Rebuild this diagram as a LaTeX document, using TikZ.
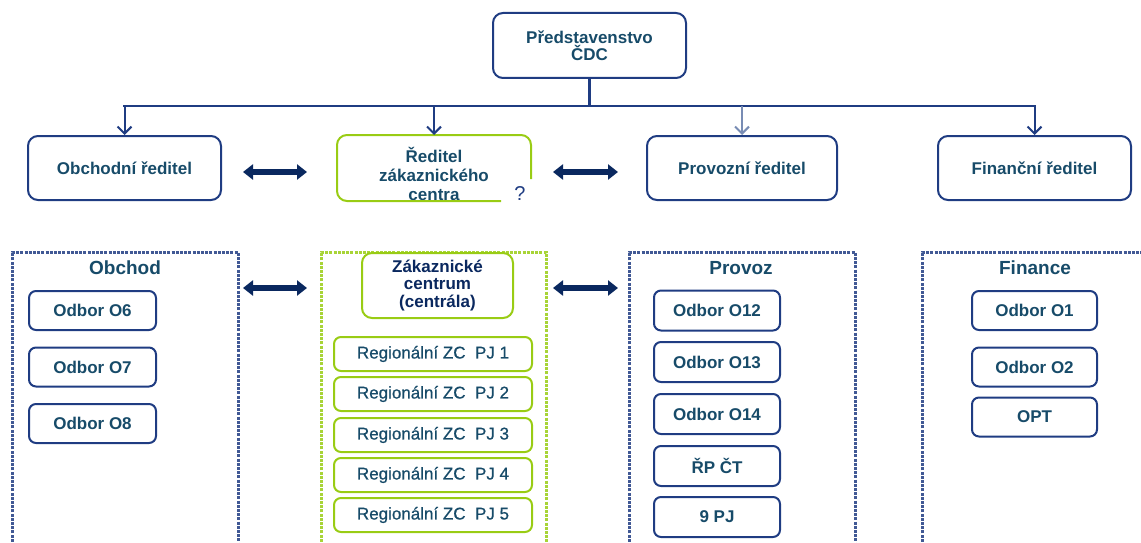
\documentclass[tikz,border=0pt]{standalone}
\usepackage{fontspec}
\setmainfont{Liberation Sans}
\usetikzlibrary{arrows.meta}
\definecolor{navy}{RGB}{31,60,130}
\definecolor{arrowfill}{RGB}{10,40,95}
\definecolor{txt}{RGB}{23,75,105}
\definecolor{lgreen}{RGB}{153,204,20}
\definecolor{lnavy}{RGB}{120,140,180}
\tikzset{
  box/.style={draw=navy, line width=2pt, rounded corners=10pt, fill=white, text=txt,
    font=\fontsize{17}{17.5}\selectfont\bfseries, align=center, inner sep=0pt},
  smallbox/.style={box, rounded corners=7pt},
  gbox/.style={smallbox, draw=lgreen, font=\fontsize{17}{17}\selectfont\addfontfeature{FakeBold=0.6}},
  ttl/.style={text=txt, font=\fontsize{19}{19}\selectfont\bfseries, inner sep=0pt},
  cont/.style={draw=navy!85, line width=3pt, dash pattern=on 3pt off 1.2pt},
  gcont/.style={cont, draw=lgreen!85},
  down/.style={draw=navy, line width=2pt, -{Straight Barb[length=7pt,width=14pt,line width=2pt]}},
  dbl/.style={draw=arrowfill, line width=6.5pt, {Triangle[width=15pt,length=10pt]}-{Triangle[width=15pt,length=10pt]}},
}
\begin{document}
\begin{tikzpicture}[x=1pt,y=-1pt]
\useasboundingbox (0,0) rectangle (1141,543);
% top
\node[box, minimum width=193pt, minimum height=65pt] (top) at (589.5,45.5) {Představenstvo\\ČDC};
% second row
\node[box, minimum width=193pt, minimum height=64pt] (obch) at (124.5,168) {Obchodní ředitel};
\node[box, draw=none, fill=none, minimum width=192pt, minimum height=64pt] (rzc) at (434,168) {};
\node[box, draw=none, fill=none, font=\fontsize{17}{19}\selectfont\bfseries] (rzct) at (434,174) {Ředitel\\zákaznického\\centra};
\draw[lgreen, line width=2pt, rounded corners=10pt]
  ([yshift=-11pt]rzc.east) -- (rzc.north east) -- (rzc.north west) -- (rzc.south west) -- ([xshift=-30pt]rzc.south east);
\node[text=navy, font=\fontsize{20}{20}\selectfont, inner sep=0pt] (q) at (520,194) {?};
\node[box, minimum width=190pt, minimum height=64pt] (prov) at (742,168) {Provozní ředitel};
\node[box, minimum width=193pt, minimum height=64pt] (fin) at (1034.5,168) {Finanční ředitel};
% bus
\coordinate (bus) at (589.5,106);
\draw[navy, line width=2.5pt] (top.south) -- (top.south |- bus);
\draw[navy, line width=2.5pt] ([xshift=-1.25pt]obch.north |- bus) -- ([xshift=1.25pt]fin.north |- bus);
\draw[down] (obch.north |- bus) -- (obch.north);
\draw[down] (rzc.north |- bus) -- (rzc.north);
\draw[down, draw=lnavy] (prov.north |- bus) -- (prov.north);
\draw[down] (fin.north |- bus) -- (fin.north);
% horizontal double arrows
\coordinate (a1l) at (243,172); \coordinate (a1r) at (307,172);
\coordinate (a2l) at (553,172); \coordinate (a2r) at (618,172);
\coordinate (a3l) at (243,288); \coordinate (a3r) at (307,288);
\coordinate (a4l) at (553,288); \coordinate (a4r) at (618,288);
\draw[dbl] (a1l) -- (a1r);
\draw[dbl] (a2l) -- (a2r);
\draw[dbl] (a3l) -- (a3r);
\draw[dbl] (a4l) -- (a4r);
% containers
\draw[cont] (12,546) -- (12,252) -- (238,252) -- (238,546);
\draw[gcont] (321,546) -- (321,252) -- (546,252) -- (546,546);
\draw[cont] (629,546) -- (629,252) -- (855,252) -- (855,546);
\draw[cont] (922,546) -- (922,252) -- (1145,252);
% Obchod
\node[ttl] (tobch) at (125,268) {Obchod};
\node[smallbox, minimum width=127pt, minimum height=39pt] (o6) at (92.5,310.5) {Odbor O6};
\node[smallbox, minimum width=127pt, minimum height=39pt] (o7) at (92.5,367) {Odbor O7};
\node[smallbox, minimum width=127pt, minimum height=39pt] (o8) at (92.5,423.5) {Odbor O8};
% ZC
\node[box, draw=lgreen, minimum width=151pt, minimum height=65pt, text=arrowfill] (zcc) at (437.5,285.5) {Zákaznické\\centrum\\(centrála)};
\node[gbox, minimum width=198pt, minimum height=34pt] (r1) at (433,354) {Regionální ZC\ \ PJ 1};
\node[gbox, minimum width=198pt, minimum height=34pt] (r2) at (433,394) {Regionální ZC\ \ PJ 2};
\node[gbox, minimum width=198pt, minimum height=34pt] (r3) at (433,435) {Regionální ZC\ \ PJ 3};
\node[gbox, minimum width=198pt, minimum height=34pt] (r4) at (433,475) {Regionální ZC\ \ PJ 4};
\node[gbox, minimum width=198pt, minimum height=34pt] (r5) at (433,515) {Regionální ZC\ \ PJ 5};
% Provoz
\node[ttl] (tprov) at (741,268) {Provoz};
\node[smallbox, minimum width=126pt, minimum height=40pt] (o12) at (717,310.5) {Odbor O12};
\node[smallbox, minimum width=126pt, minimum height=40pt] (o13) at (717,362) {Odbor O13};
\node[smallbox, minimum width=126pt, minimum height=40pt] (o14) at (717,414) {Odbor O14};
\node[smallbox, minimum width=126pt, minimum height=40pt] (rp) at (717,466) {ŘP ČT};
\node[smallbox, minimum width=126pt, minimum height=40pt] (pj) at (717,517) {9 PJ};
% Finance
\node[ttl] (tfin) at (1035,268) {Finance};
\node[smallbox, minimum width=125pt, minimum height=39pt] (o1) at (1034.5,310.5) {Odbor O1};
\node[smallbox, minimum width=125pt, minimum height=39pt] (o2) at (1034.5,367) {Odbor O2};
\node[smallbox, minimum width=125pt, minimum height=39pt] (opt) at (1034.5,417) {OPT};
\end{tikzpicture}
\end{document}
